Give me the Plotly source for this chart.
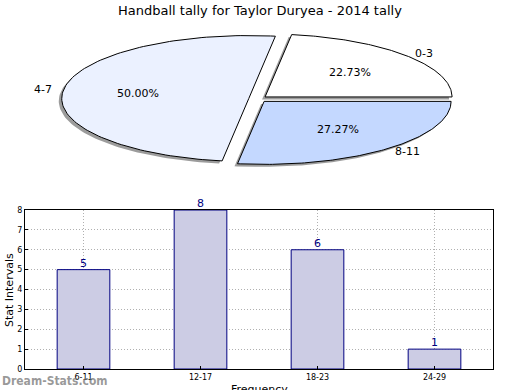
import numpy as np
import plotly.graph_objects as go

# ---- data ----
pie_labels = ["0-3", "4-7", "8-11"]
pie_values = [5, 11, 6]
pie_colors = ["#FFFFFF", "#EBF1FF", "#C4D8FF"]

bar_categories = ["6-11", "12-17", "18-23", "24-29"]
bar_values = [5, 8, 6, 1]
y_ticks = [0, 1, 2, 3, 4, 5, 6, 7, 8]

title = "Handball tally for Taylor Duryea - 2014 tally"

W, H = 520, 390
explode = 0.05
fig = go.Figure()

# ---- pie drawn as filled wedges on an unscaled unit-circle axis ----
total = sum(pie_values)
start = 0.0
annotations = []
shadow_dx, shadow_dy = -0.016, -0.04
wedges = []
for lab, val, col in zip(pie_labels, pie_values, pie_colors):
    frac = val / total
    a0 = start * 2 * np.pi
    a1 = (start + frac) * 2 * np.pi
    mid = (a0 + a1) / 2
    ox, oy = explode * np.cos(mid), explode * np.sin(mid)
    t = np.linspace(a0, a1, 120)
    xs = np.concatenate([[ox], ox + np.cos(t), [ox]])
    ys = np.concatenate([[oy], oy + np.sin(t), [oy]])
    wedges.append((xs, ys, col))
    annotations.append(dict(x=ox + 0.6 * np.cos(mid), y=oy + 0.6 * np.sin(mid),
                            xref="x2", yref="y2", text=f"{frac*100:.2f}%",
                            showarrow=False, font=dict(size=11, color="#000")))
    lx, ly = 1.1 * np.cos(mid), 1.1 * np.sin(mid)
    annotations.append(dict(x=lx, y=ly, xref="x2", yref="y2", text=lab,
                            showarrow=False,
                            xanchor="left" if np.cos(mid) > 0 else "right",
                            font=dict(size=11, color="#000")))
    start += frac

for xs, ys, col in wedges:
    fig.add_trace(go.Scatter(x=xs + shadow_dx, y=ys + shadow_dy, xaxis="x2", yaxis="y2",
                             mode="lines", fill="toself", fillcolor="rgba(90,90,90,0.6)",
                             line=dict(width=0), hoverinfo="skip", showlegend=False))
for xs, ys, col in wedges:
    fig.add_trace(go.Scatter(x=xs, y=ys, xaxis="x2", yaxis="y2",
                             mode="lines", fill="toself", fillcolor=col,
                             line=dict(color="#000", width=1), hoverinfo="skip",
                             showlegend=False))

# ---- bar chart ----
xpos = list(range(len(bar_categories)))
fig.add_trace(go.Bar(x=xpos, y=bar_values, width=0.45,
                     marker=dict(color="#CCCCE4", line=dict(color="#000080", width=1)),
                     showlegend=False, hoverinfo="skip"))
for xp, v in zip(xpos, bar_values):
    annotations.append(dict(x=xp, y=v, xref="x", yref="y", text=str(v),
                            showarrow=False, yanchor="bottom", yshift=-2,
                            font=dict(size=11, color="#000080")))

cx_px, cy_px, rx_px, ry_px = 258, 99, 187, 63
pie_top, pie_bot = 0, 195
grid_dash = "1px,2px"
fig.update_layout(
    width=W, height=H, margin=dict(l=0, r=0, t=0, b=0, autoexpand=False),
    paper_bgcolor="white", plot_bgcolor="white",
    font=dict(family="DejaVu Sans", color="#000"),
    xaxis2=dict(domain=[0, 1], range=[-cx_px / rx_px, (W - cx_px) / rx_px],
                visible=False, anchor="y2", automargin=False),
    yaxis2=dict(domain=[1 - pie_bot / H, 1 - pie_top / H],
                range=[-(pie_bot - cy_px) / ry_px, (cy_px - pie_top) / ry_px],
                visible=False, anchor="x2", automargin=False),
    xaxis=dict(domain=[25 / W, 493 / W], range=[-0.5, 3.5],
               tickmode="array", tickvals=xpos,
               ticktext=bar_categories, tickfont=dict(size=8),
               showline=True, linecolor="#000", linewidth=1, mirror=True,
               ticks="inside", ticklen=3, tickcolor="#000",
               showgrid=True, gridcolor="#b0b0b0", griddash=grid_dash, gridwidth=1,
               zeroline=False, anchor="y", automargin=False),
    yaxis=dict(domain=[1 - 369 / H, 1 - 210 / H], range=[0, 8],
               tickmode="array", tickvals=y_ticks, tickfont=dict(size=8),
               showline=True, linecolor="#000", linewidth=1, mirror=True,
               ticks="inside", ticklen=3, tickcolor="#000",
               showgrid=True, gridcolor="#b0b0b0", griddash=grid_dash, gridwidth=1,
               zeroline=False, anchor="x", automargin=False),
)

annotations += [
    dict(x=0.5, y=1 - 10 / H, xref="paper", yref="paper", text=title,
         showarrow=False, font=dict(size=13, color="#000"), xanchor="center",
         yanchor="middle"),
    dict(x=9 / W, y=1 - 290 / H, xref="paper", yref="paper", text="Stat Intervals",
         textangle=-90, showarrow=False, xanchor="center", yanchor="middle",
         font=dict(size=11, color="#000")),
    dict(x=259 / W, y=1 - 389 / H, xref="paper", yref="paper", text="Frequency",
         showarrow=False, xanchor="center", yanchor="middle",
         font=dict(size=11, color="#000")),
    dict(x=0, y=1 - 381 / H, xref="paper", yref="paper", text="<b>Dream-Stats.com</b>",
         showarrow=False, xanchor="left", yanchor="middle",
         font=dict(size=12, family="DejaVu Sans Condensed, DejaVu Sans",
                   color="rgba(120,120,120,0.75)")),
]
fig.update_layout(annotations=annotations)

fig.write_html("out.html", config={"displayModeBar": False},
               post_script="document.body.style.margin='0';document.body.style.overflow='hidden';")
